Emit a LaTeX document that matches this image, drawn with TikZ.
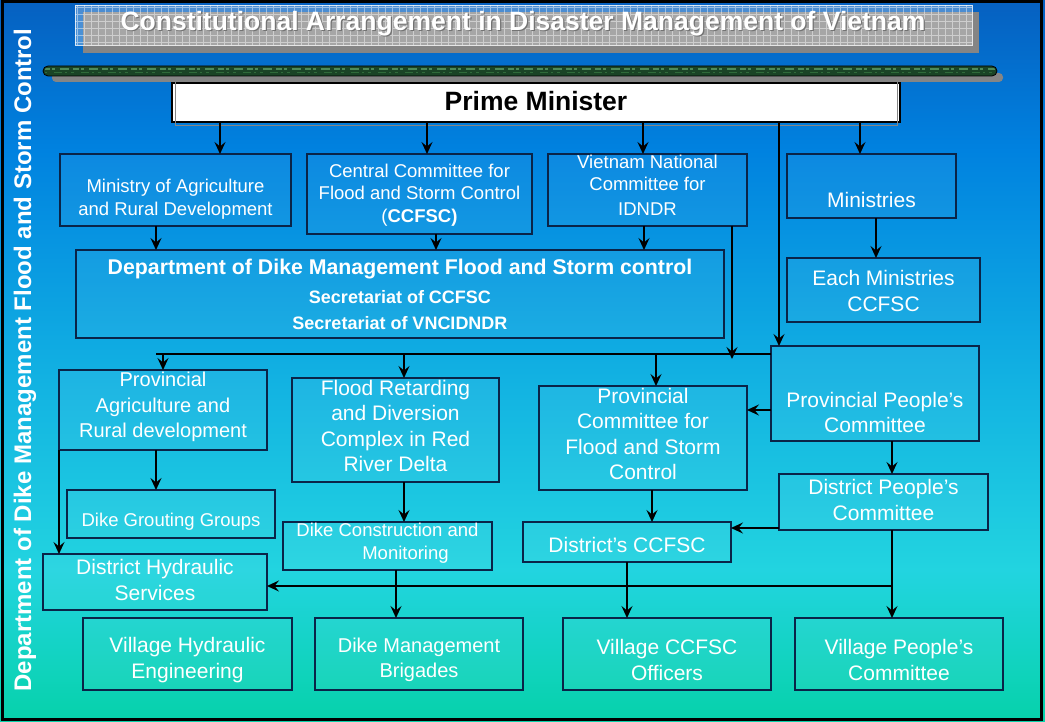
\documentclass[tikz,border=0pt]{standalone}
\usepackage{fontspec}
\setmainfont{Liberation Sans}
\usetikzlibrary{arrows.meta,calc}
\definecolor{bgA}{HTML}{0660C0}
\definecolor{bgB}{HTML}{0082E0}
\definecolor{bgC}{HTML}{12B2E2}
\definecolor{bgD}{HTML}{22D4E0}
\definecolor{bgE}{HTML}{06D2AA}
\definecolor{boxline}{HTML}{0A2448}
\definecolor{shadowgray}{HTML}{858585}
\definecolor{bargreen}{HTML}{1A4426}
\definecolor{barlight}{HTML}{4E8A58}
\definecolor{barmid}{HTML}{2F6A3A}
\begin{document}
\begin{tikzpicture}[x=1pt,y=-1pt,
  box/.style={draw=boxline, line width=1.4pt, fill=white, fill opacity=0.05, text opacity=1,
    anchor=north west, inner sep=0pt, outer sep=0pt},
  txt/.style={text=white, align=center, inner sep=0pt, font=\fontsize{21}{25.5}\selectfont},
  midtxt/.style={txt, font=\fontsize{20}{25.5}\selectfont},
  smalltxt/.style={txt, font=\fontsize{18.5}{22.5}\selectfont},
  titlefont/.style={font=\bfseries\fontsize{26.5}{26.5}\selectfont, inner sep=0pt},
  arr/.style={draw=black, line width=1.3pt, -{Stealth[length=12pt,width=11pt,inset=4.5pt]}},
  wire/.style={draw=black, line width=1.3pt}]
\useasboundingbox (0,0) rectangle (1045,722);
% background
\shade[top color=bgA, bottom color=bgB] (0,0) rectangle (1045,150.5);
\shade[top color=bgB, bottom color=bgC] (0,150) rectangle (1045,380.5);
\shade[top color=bgC, bottom color=bgD] (0,380) rectangle (1045,570.5);
\shade[top color=bgD, bottom color=bgE] (0,570) rectangle (1045,722);
\draw[black, line width=3pt] (2,2) rectangle (1041.5,719.5);
% title banner
\fill[shadowgray] (83,12) rectangle (979,53);
\fill[white, fill opacity=0.28] (75,5) rectangle (972,45);
\begin{scope}
\clip (75,5) rectangle (972,45);
\draw[white, line width=0.6pt, opacity=0.45, step=7pt] (75,5) grid (972,45);
\end{scope}
\draw[white, opacity=0.8, line width=0.8pt] (75,5) rectangle (972,45);
\node[titlefont, text=black!55] (titleshadow) at (524.2,25.2) {Constitutional Arrangement in Disaster Management of Vietnam};
\node[titlefont, text=white] (title) at (523,24) {Constitutional Arrangement in Disaster Management of Vietnam};
% green bar
\fill[shadowgray, rounded corners=4pt] (52,73) rectangle (1003,82);
\filldraw[fill=bargreen, draw=black, line width=0.8pt, rounded corners=5pt] (43,66) rectangle (997,76);
\begin{scope}
\clip[rounded corners=5pt] (44,67) rectangle (996,75);
\draw[barlight, line width=1.6pt, dash pattern=on 6pt off 2pt on 3pt off 5pt on 9pt off 4pt] (44,69) -- (996,69);
\draw[barmid, line width=1.6pt, dash pattern=on 3pt off 7pt on 8pt off 3pt on 2pt off 4pt] (44,72.5) -- (996,72.5);
\end{scope}
% vertical label
\node[rotate=90, text=white, font=\bfseries\fontsize{24}{24}\selectfont, inner sep=0pt] (side) at (25,360) {Department of Dike Management Flood and Storm Control};
% Prime Minister
\node[draw=black, line width=1.5pt, fill=white, anchor=north west, minimum width=728pt, minimum height=39pt, inner sep=0pt, outer sep=0pt] (pm) at (172,83) {};
\draw[shadowgray, line width=0.8pt] ([shift={(3,-3)}]pm.north west) rectangle ([shift={(-3,3)}]pm.south east);
\node[titlefont] (pmt) at (536,101) {Prime Minister};
% boxes
\node[box, minimum width=231pt, minimum height=72pt] (mina) at (60,154) {};
\node[box, minimum width=225pt, minimum height=80pt] (ccfsc) at (307,154) {};
\node[box, minimum width=199pt, minimum height=72pt] (vnc) at (548,154) {};
\node[box, minimum width=169pt, minimum height=64pt] (mins) at (787,154) {};
\node[box, minimum width=193pt, minimum height=64pt] (each) at (787,258) {};
\node[box, minimum width=648pt, minimum height=88pt] (dept) at (76,250) {};
\node[box, minimum width=208pt, minimum height=80pt] (pa) at (59,370) {};
\node[box, minimum width=207pt, minimum height=104pt] (fr) at (292,378) {};
\node[box, minimum width=208pt, minimum height=104pt] (pcfsc) at (539,386) {};
\node[box, minimum width=208pt, minimum height=95pt] (ppc) at (771,346) {};
\node[box, minimum width=209pt, minimum height=56pt] (dpc) at (779,474) {};
\node[box, minimum width=208pt, minimum height=48pt] (dg) at (67,490) {};
\node[box, minimum width=209pt, minimum height=48pt] (dcm) at (283,522) {};
\node[box, minimum width=208pt, minimum height=40pt] (dccfsc) at (523,522) {};
\node[box, minimum width=224pt, minimum height=56pt] (dhs) at (43,554) {};
\node[box, minimum width=209pt, minimum height=72pt] (vhe) at (83,618) {};
\node[box, minimum width=208pt, minimum height=72pt] (dmb) at (315,618) {};
\node[box, minimum width=208pt, minimum height=72pt] (vcc) at (563,618) {};
\node[box, minimum width=208pt, minimum height=72pt] (vpc) at (795,618) {};
% texts
\node[smalltxt] (minat) at ($(mina.center)+(0,9)$) {Ministry of Agriculture\\and Rural Development};
\node[smalltxt] (ccfsct) at ($(ccfsc.center)+(0,1)$) {Central Committee for\\Flood and Storm Control\\(\textbf{CCFSC)}};
\node[smalltxt] (vnct) at ($(vnc.center)+(0,-5)$) {Vietnam National\\Committee for\\[2pt]IDNDR};
\node[txt] (minst) at ($(mins.center)+(0,14)$) {Ministries};
\node[txt] (eacht) at ($(each.center)+(0,1)$) {Each Ministries\\CCFSC};
\node[txt, font=\bfseries\fontsize{18}{26}\selectfont] (deptt) at ($(dept.center)+(0,0)$) {{\fontsize{21.3}{21}\selectfont Department of Dike Management Flood and Storm control}\\[3pt]Secretariat of CCFSC\\Secretariat of VNCIDNDR};
\node[midtxt] (pat) at ($(pa.center)+(0,-3)$) {Provincial\\Agriculture and\\Rural development};
\node[txt] (frt) at ($(fr.center)+(0,-4)$) {Flood Retarding\\and Diversion\\Complex in Red\\River Delta};
\node[txt] (pcfsct) at ($(pcfsc.center)+(0,-4)$) {Provincial\\Committee for\\Flood and Storm\\Control};
\node[txt] (ppct) at ($(ppc.center)+(0,19)$) {Provincial People’s\\Committee};
\node[txt] (dpct) at ($(dpc.center)+(0,-2)$) {District People’s\\Committee};
\node[smalltxt] (dgt) at ($(dg.center)+(0,8)$) {Dike Grouting Groups};
\node[smalltxt] (dcmt) at ($(dcm.center)+(0,-3)$) {Dike Construction and\\\hspace*{36pt}Monitoring};
\node[txt] (dccfsct) at ($(dccfsc.center)+(0,3)$) {District’s CCFSC};
\node[txt] (dhst) at ($(dhs.center)+(0,-2)$) {District Hydraulic\\Services};
\node[txt] (vhet) at ($(vhe.center)+(0,6)$) {Village Hydraulic\\Engineering};
\node[midtxt] (dmbt) at ($(dmb.center)+(0,6)$) {Dike Management\\Brigades};
\node[txt] (vcct) at ($(vcc.center)+(0,6)$) {Village CCFSC\\Officers};
\node[txt] (vpct) at ($(vpc.center)+(0,6)$) {Village People’s\\Committee};
% connectors
\coordinate (busL) at (156,354);
\coordinate (busV) at (732,354);
\coordinate (busR) at (892,586);
\draw[arr] (pm.south -| 220,0) -- (mina.north -| 220,0);
\draw[arr] (pm.south -| 427,0) -- (ccfsc.north -| 427,0);
\draw[arr] (pm.south -| 643,0) -- (vnc.north -| 643,0);
\draw[arr] (pm.south -| 779,0) -- (ppc.north -| 779,0);
\draw[arr] (pm.south -| 860,0) -- (mins.north -| 860,0);
\draw[arr] (mins.south -| 876,0) -- (each.north -| 876,0);
\draw[arr] (mina.south -| 156,0) -- (dept.north -| 156,0);
\draw[arr] (ccfsc.south -| 436,0) -- (dept.north -| 436,0);
\draw[arr] (vnc.south -| 644,0) -- (dept.north -| 644,0);
\draw[arr, shorten >=-5pt] (vnc.south -| busV) -- (busV);
\draw[wire] (ppc.west |- busL) -- (busL);
\draw[arr] (busL -| pa.north) -- (pa.north);
\draw[arr] (busL -| 404,0) -- (fr.north -| 404,0);
\draw[arr] (busL -| 656,0) -- (pcfsc.north -| 656,0);
\draw[arr] (ppc.west |- 0,410) -- (pcfsc.east |- 0,410);
\draw[arr] (ppc.south -| 892,0) -- (dpc.north -| 892,0);
\draw[arr] (pcfsc.south -| 652,0) -- (dccfsc.north -| 652,0);
\draw[arr] (dpc.west |- 0,528) -- (dccfsc.east |- 0,528);
\draw[arr] (dpc.south -| busR) -- (vpc.north -| busR);
\draw[arr] (busR) -- (dhs.east |- busR);
\draw[arr] (dccfsc.south -| 627,0) -- (vcc.north -| 627,0);
\draw[arr] (fr.south -| 404,0) -- (dcm.north -| 404,0);
\draw[arr] (dcm.south -| 396,0) -- (dmb.north -| 396,0);
\draw[arr] (pa.south -| 156,0) -- (dg.north -| 156,0);
\draw[arr] (pa.south west) -- (dhs.north -| pa.south west);
\end{tikzpicture}
\end{document}
